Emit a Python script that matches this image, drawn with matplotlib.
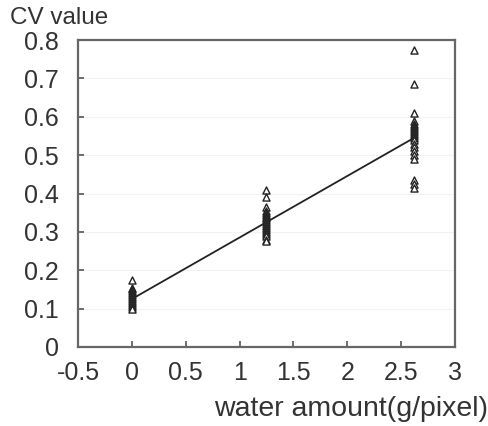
import matplotlib
matplotlib.use("Agg")
import matplotlib.pyplot as plt

plt.rcParams['font.family'] = ['Liberation Sans', 'DejaVu Sans']

# CV values measured at each water amount
water_levels = [0.0, 1.25, 2.62]
cv_at_0 = [0.175, 0.155, 0.15, 0.145, 0.14, 0.135, 0.13, 0.125, 0.12,
           0.115, 0.11, 0.105, 0.10]
cv_at_125 = [0.41, 0.39, 0.365, 0.355, 0.35, 0.345, 0.34, 0.335, 0.33,
             0.325, 0.32, 0.315, 0.31, 0.305, 0.30, 0.295, 0.29, 0.28, 0.275]
cv_at_262 = [0.775, 0.685, 0.61, 0.59, 0.58, 0.575, 0.57, 0.565, 0.56,
             0.555, 0.55, 0.545, 0.54, 0.53, 0.52, 0.51, 0.50, 0.49,
             0.435, 0.425, 0.415]
fit_x = [0.0, 2.62]
fit_y = [0.125, 0.545]

x_ticks = [-0.5, 0, 0.5, 1, 1.5, 2, 2.5, 3]
y_ticks = [0, 0.1, 0.2, 0.3, 0.4, 0.5, 0.6, 0.7, 0.8]

text_c = "#333333"
fig = plt.figure(figsize=(4.89, 4.26), dpi=100)
ax = fig.add_axes([78 / 489, 1 - 347 / 426, 377 / 489, 307 / 426])

for xv, vals in zip(water_levels, [cv_at_0, cv_at_125, cv_at_262]):
    ax.scatter([xv] * len(vals), vals, marker="^", s=26, facecolors="white",
               edgecolors="#222222", linewidths=1.0, zorder=3)
ax.plot(fit_x, fit_y, color="#222222", lw=1.3, zorder=2)

ax.set_xlim(-0.5, 3)
ax.set_ylim(0, 0.8)
ax.set_xticks(x_ticks)
ax.set_xticklabels([f"{t:g}" for t in x_ticks])
ax.set_yticks(y_ticks)
ax.set_yticklabels([f"{t:g}" for t in y_ticks])
ax.tick_params(direction="in", length=4, width=1.2, colors="#555555",
               labelcolor=text_c, labelsize=18)
ax.tick_params(axis="x", pad=10)
ax.tick_params(axis="y", pad=14)
ax.grid(axis="y", color="#f2f2f2", lw=0.8)
for s in ax.spines.values():
    s.set_color("#666666")
    s.set_linewidth(1.6)

fig.text(10 / 489, 1 - 18 / 426, "CV value", fontsize=17.5, color=text_c,
         ha="left", va="center")
fig.text(488 / 489, 1 - 409 / 426, "water amount(g/pixel)", fontsize=20.5,
         color=text_c, ha="right", va="center")

fig.savefig("out.png", dpi=100)
